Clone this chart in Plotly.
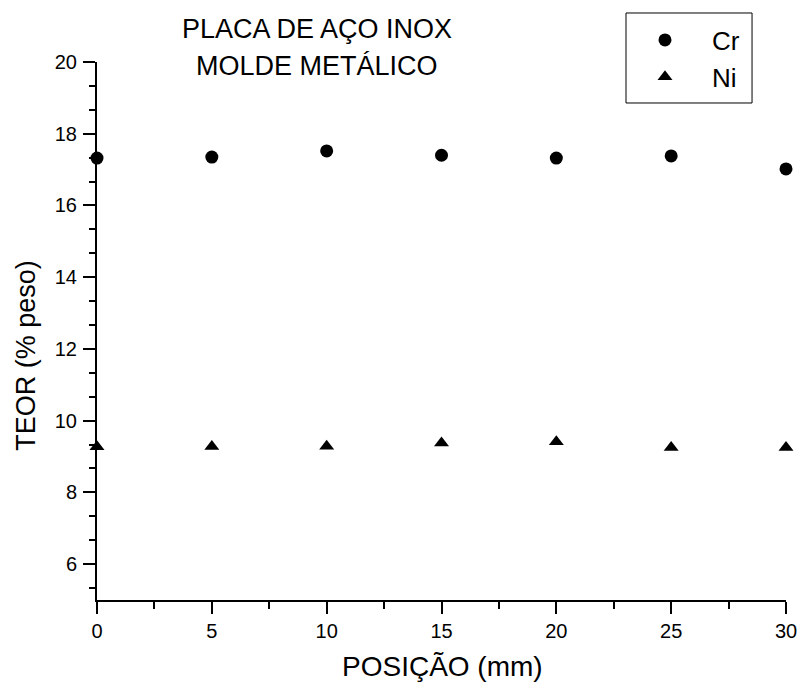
import plotly.graph_objects as go

posicao = [0, 5, 10, 15, 20, 25, 30]
cr = [17.32, 17.35, 17.52, 17.40, 17.32, 17.38, 17.02]
ni = [9.27, 9.28, 9.29, 9.38, 9.41, 9.25, 9.25]

title_lines = ["PLACA DE AÇO INOX", "MOLDE METÁLICO"]
x_title = "POSIÇÃO (mm)"
y_title = "TEOR (% peso)"

FONT = "Liberation Sans, Arial, sans-serif"

fig = go.Figure()
fig.add_trace(go.Scatter(x=posicao, y=cr, mode="markers", name="Cr",
                         marker=dict(symbol="circle", size=13, color="black"),
                         cliponaxis=False))
fig.add_trace(go.Scatter(x=posicao, y=ni, mode="markers", name="Ni",
                         marker=dict(symbol="triangle-up", size=13, color="black"),
                         cliponaxis=False))

axis_common = dict(showline=True, linecolor="black", linewidth=2, ticks="outside",
                   tickwidth=2, tickcolor="black", showgrid=False,
                   zeroline=False, mirror=False, automargin=False,
                   tickfont=dict(family=FONT, size=20, color="black"))

fig.update_xaxes(range=[0, 30], tick0=0, dtick=5, ticklen=12, ticklabelstandoff=0,
                 minor=dict(tick0=0, dtick=2.5, ticks="outside", ticklen=7, tickwidth=2, tickcolor="black"),
                 **axis_common)
fig.update_yaxes(range=[5, 20], tick0=0, dtick=2, ticklen=12, ticklabelstandoff=2,
                 minor=dict(tick0=0, dtick=2/3, ticks="outside", ticklen=6, tickwidth=2, tickcolor="black"),
                 **axis_common)

# chart title (two lines)
line_y = [1.0621, 0.9933]
for txt, yy in zip(title_lines, line_y):
    fig.add_annotation(text=txt, xref="paper", yref="paper",
                       x=0.319, y=yy, xanchor="center", yanchor="middle", showarrow=False,
                       font=dict(family=FONT, size=27, color="black"))

# axis titles
fig.add_annotation(text=x_title, xref="paper", yref="paper", x=0.5015, y=-0.1245,
                   xanchor="center", yanchor="middle", showarrow=False, borderpad=0,
                   font=dict(family=FONT, size=28, color="black"))
fig.add_annotation(text=y_title, xref="paper", yref="paper", x=-0.1035, y=0.4554,
                   xanchor="center", yanchor="middle", showarrow=False, textangle=-90,
                   font=dict(family=FONT, size=27, color="black"))

# legend frame
fig.add_shape(type="rect", xref="paper", yref="paper", x0=0.7678, x1=0.9507,
              y0=0.9238, y1=1.0911, line=dict(color="black", width=1),
              fillcolor="rgba(0,0,0,0)", layer="above")

fig.update_layout(
    width=801, height=686,
    margin=dict(l=97, r=15, t=62, b=86, autoexpand=False),
    plot_bgcolor="white", paper_bgcolor="white",
    font=dict(family=FONT, color="black"),
    showlegend=True,
    legend=dict(x=0.7547, y=1.0864, xanchor="left", yanchor="top",
                bordercolor="rgba(0,0,0,0)", borderwidth=1, bgcolor="rgba(0,0,0,0)",
                font=dict(family=FONT, size=26, color="black"),
                itemwidth=84, tracegroupgap=0),
)

fig.write_html(
    "out.html",
    config={"displayModeBar": False},
    post_script="document.body.style.margin='0';document.body.style.overflow='hidden';"
                "document.documentElement.style.overflow='hidden';",
)
